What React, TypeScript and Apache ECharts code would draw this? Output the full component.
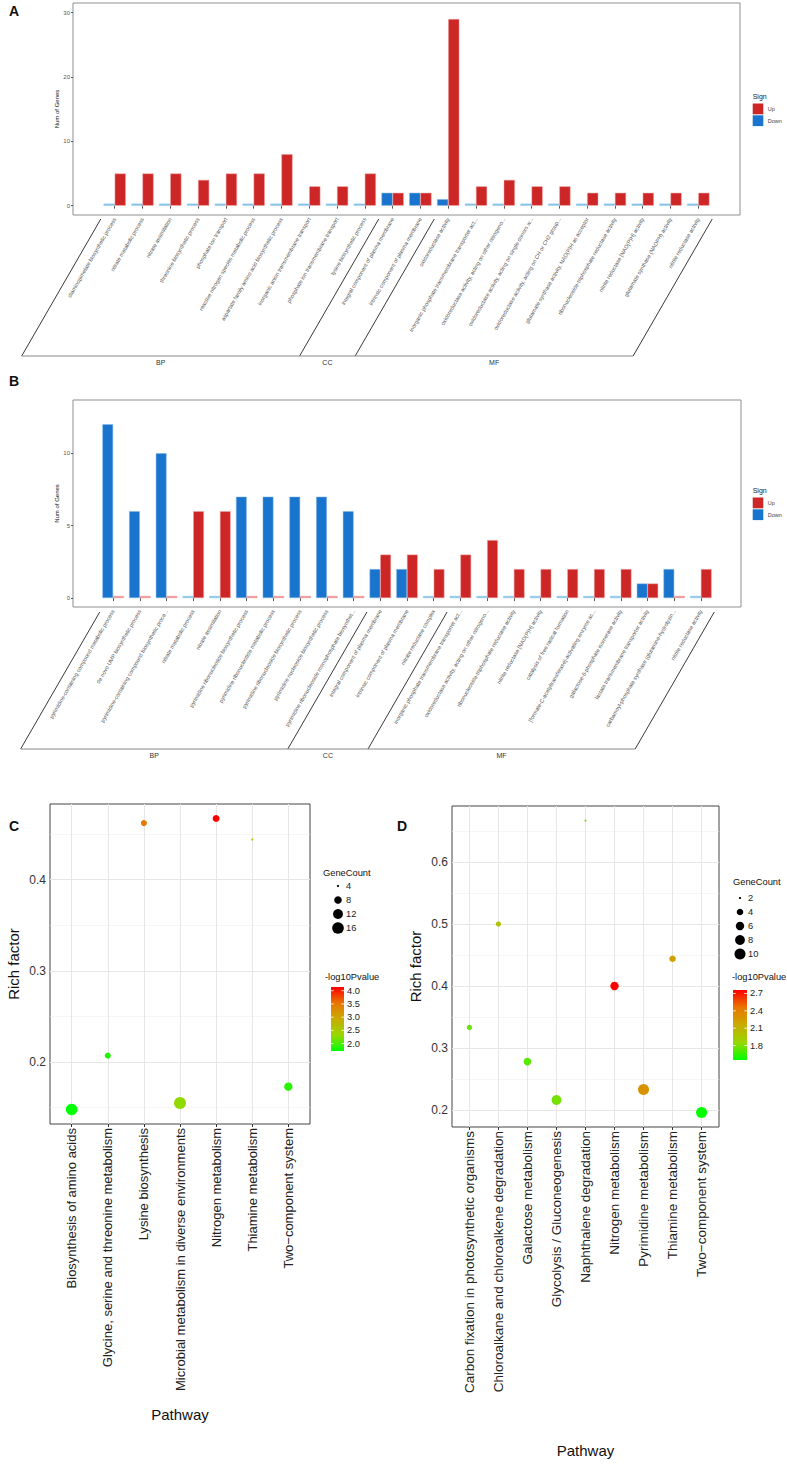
import React, { useEffect, useRef } from "react";
import * as echarts from "echarts";

const FONT = "'Liberation Sans', Arial, Helvetica, sans-serif";

// ---------------- Panel A (GO, bars) ----------------
const aCategories = [
  "diaminopimelate biosynthetic process",
  "nitrate metabolic process",
  "nitrate assimilation",
  "threonine biosynthetic process",
  "phosphate ion transport",
  "reactive nitrogen species metabolic process",
  "aspartate family amino acid biosynthetic process",
  "inorganic anion transmembrane transport",
  "phosphate ion transmembrane transport",
  "lysine biosynthetic process",
  "integral component of plasma membrane",
  "intrinsic component of plasma membrane",
  "oxidoreductase activity",
  "inorganic phosphate transmembrane transporter act...",
  "oxidoreductase activity, acting on other nitrogeno...",
  "oxidoreductase activity, acting on single donors w...",
  "oxidoreductase activity, acting on CH or CH2 group...",
  "glutamate synthase activity, NAD(P)H as acceptor",
  "ribonucleoside-triphosphate reductase activity",
  "nitrite reductase [NAD(P)H] activity",
  "glutamate synthase (NADPH) activity",
  "nitrite reductase activity",
];
const aGroupNames = ["BP", "CC", "MF"];
const aGroupSizes = [10, 2, 10];
const aUp = [5, 5, 5, 4, 5, 5, 8, 3, 3, 5, 2, 2, 29, 3, 4, 3, 3, 2, 2, 2, 2, 2];
const aDown = [0, 0, 0, 0, 0, 0, 0, 0, 0, 0, 2, 2, 1, 0, 0, 0, 0, 0, 0, 0, 0, 0];
const aTicks = [0, 10, 20, 30];

// ---------------- Panel B (GO, bars) ----------------
const bCategories = [
  "pyrimidine-containing compound metabolic process",
  "de novo UMP biosynthetic process",
  "pyrimidine-containing compound biosynthetic proce...",
  "nitrate metabolic process",
  "nitrate assimilation",
  "pyrimidine ribonucleotide biosynthetic process",
  "pyrimidine ribonucleotide metabolic process",
  "pyrimidine ribonucleoside biosynthetic process",
  "pyrimidine nucleoside biosynthetic process",
  "pyrimidine ribonucleoside monophosphate biosynthet...",
  "integral component of plasma membrane",
  "intrinsic component of plasma membrane",
  "nitrate reductase complex",
  "inorganic phosphate transmembrane transporter act...",
  "oxidoreductase activity, acting on other nitrogeno...",
  "ribonucleoside-triphosphate reductase activity",
  "nitrite reductase [NAD(P)H] activity",
  "catalysis of free radical formation",
  "[formate-C-acetyltransferase]-activating enzyme ac...",
  "galactose-6-phosphate isomerase activity",
  "lactate transmembrane transporter activity",
  "carbamoyl-phosphate synthase (glutamine-hydrolyzin...",
  "nitrite reductase activity",
];
const bGroupNames = ["BP", "CC", "MF"];
const bGroupSizes = [10, 3, 10];
const bUp = [0, 0, 0, 6, 6, 0, 0, 0, 0, 0, 3, 3, 2, 3, 4, 2, 2, 2, 2, 2, 1, 0, 2];
const bDown = [12, 6, 10, 0, 0, 7, 7, 7, 7, 6, 2, 2, 0, 0, 0, 0, 0, 0, 0, 0, 1, 2, 0];
const bTicks = [0, 5, 10];

// ---------------- Panel C (KEGG, bubbles) ----------------
const cPathways = [
  "Biosynthesis of amino acids",
  "Glycine, serine and threonine metabolism",
  "Lysine biosynthesis",
  "Microbial metabolism in diverse environments",
  "Nitrogen metabolism",
  "Thiamine metabolism",
  "Two\u2212component system",
];
const cRichFactor = [0.148, 0.207, 0.462, 0.155, 0.467, 0.444, 0.173];
const cLog10P = [1.72, 1.85, 3.5, 2.3, 4.14, 2.4, 1.88];
const cGeneCount = [16, 6, 6, 17, 7, 4, 9];
const cYTicks = [0.2, 0.3, 0.4];
const cSizeBreaks = [4, 8, 12, 16];
const cColorBreaks = [2.0, 2.5, 3.0, 3.5, 4.0];

// ---------------- Panel D (KEGG, bubbles) ----------------
const dPathways = [
  "Carbon fixation in photosynthetic organisms",
  "Chloroalkane and chloroalkene degradation",
  "Galactose metabolism",
  "Glycolysis / Gluconeogenesis",
  "Naphthalene degradation",
  "Nitrogen metabolism",
  "Pyrimidine metabolism",
  "Thiamine metabolism",
  "Two\u2212component system",
];
const dRichFactor = [0.333, 0.5, 0.278, 0.216, 0.667, 0.4, 0.233, 0.444, 0.196];
const dLog10P = [1.75, 2.0, 1.72, 1.78, 1.8, 2.76, 2.3, 2.22, 1.55];
const dGeneCount = [3, 3, 5, 8, 2, 6, 10, 4, 10];
const dYTicks = [0.2, 0.3, 0.4, 0.5, 0.6];
const dSizeBreaks = [2, 4, 6, 8, 10];
const dColorBreaks = [1.8, 2.1, 2.4, 2.7];

// ---------------- styling ----------------
const RED = "#CD2626";
const BLUE = "#1874CD";
const RED_LIGHT = "#EE8E8E";
const BLUE_LIGHT = "#86C3EA";
const GRAD = ["#00FF00", "#98D700", "#C9AB00", "#E87600", "#FF0000"];

const A_LAYOUT = { left: 73, top: 3, width: 667, height: 212, yMin: -1.45, yMax: 31.5, bracketBottom: 356, legendY: 96 };
const B_LAYOUT = { left: 73, top: 400, width: 668, height: 207, yMin: -0.62, yMax: 13.68, bracketBottom: 749, legendY: 490 };
const C_LAYOUT = { left: 50, top: 804, width: 260, height: 320, labelSize: 13, pathwayY: 1414 };
const D_LAYOUT = { left: 452, top: 806, width: 267, height: 321, labelSize: 13.5, pathwayY: 1450 };

function padCats(cats: string[]) {
  return [" ", ...cats, "  "];
}

function barData(values: number[], light: string, dark: string) {
  return [
    "-",
    ...values.map((v) =>
      v === 0
        ? { value: 0, itemStyle: { color: light, borderColor: light } }
        : { value: v, itemStyle: { color: dark } }
    ),
    "-",
  ];
}

function barXAxis(gridIndex: number, cats: string[]) {
  const data = padCats(cats);
  return {
    type: "category",
    gridIndex,
    data,
    boundaryGap: true,
    axisLine: { show: false },
    axisTick: {
      show: true,
      alignWithLabel: true,
      length: 3,
      lineStyle: { color: "#333", width: 0.8 },
      interval: (i: number) => i > 0 && i < data.length - 1,
    },
    axisLabel: {
      interval: 0,
      rotate: 60,
      fontSize: 5.5,
      color: "#555",
      margin: 3,
      fontFamily: FONT,
      formatter: (v: string) => v.trim(),
    },
    splitLine: { show: false },
  };
}

function barYAxis(gridIndex: number, min: number, max: number, ticks: number[]) {
  return {
    type: "value",
    gridIndex,
    min,
    max,
    axisLine: { show: false },
    axisTick: { show: true, customValues: ticks, length: 2, lineStyle: { color: "#333", width: 0.8 } },
    axisLabel: { customValues: ticks, fontSize: 6, color: "#555", margin: 3, fontFamily: FONT },
    splitLine: { show: false },
  };
}

function barSeries(xi: number, up: number[], down: number[]) {
  const common = {
    type: "bar",
    xAxisIndex: xi,
    yAxisIndex: xi,
    barWidth: "40%",
    barGap: "0%",
    barMinHeight: 2,
    silent: true,
  };
  return [
    { ...common, name: "Down", data: barData(down, BLUE_LIGHT, BLUE), itemStyle: { color: BLUE, borderColor: "#7fb6e6", borderWidth: 0.5 } },
    { ...common, name: "Up", data: barData(up, RED_LIGHT, RED), itemStyle: { color: RED, borderColor: "#f0a0a0", borderWidth: 0.5 } },
  ];
}

function extent(vals: number[]) {
  const lo = Math.min(...vals);
  const hi = Math.max(...vals);
  const pad = (hi - lo) * 0.05;
  return [lo - pad, hi + pad];
}

function scatterXAxis(gridIndex: number, names: string[], fontSize: number) {
  const idx = names.map((_, i) => i);
  return {
    type: "value",
    gridIndex,
    min: -0.6,
    max: names.length - 1 + 0.6,
    axisLine: { show: false },
    axisTick: { show: true, customValues: idx, length: 3, lineStyle: { color: "#333" } },
    axisLabel: {
      customValues: idx,
      rotate: 90,
      fontSize,
      color: "#222",
      margin: 4,
      fontFamily: FONT,
      formatter: (v: number) => names[Math.round(v)] ?? "",
    },
    splitLine: { show: false },
  };
}

function scatterYAxis(gridIndex: number, vals: number[], ticks: number[]) {
  const [min, max] = extent(vals);
  return {
    type: "value",
    gridIndex,
    min,
    max,
    axisLine: { show: false },
    axisTick: { show: true, customValues: ticks, length: 3, lineStyle: { color: "#333" } },
    axisLabel: {
      customValues: ticks,
      fontSize: 12,
      color: "#333",
      margin: 4,
      fontFamily: FONT,
      formatter: (v: number) => v.toFixed(1),
    },
    splitLine: { show: false },
  };
}

function sizeScale(counts: number[], dMin: number, dMax: number) {
  const lo = Math.min(...counts);
  const hi = Math.max(...counts);
  return (v: number) => dMin + (dMax - dMin) * Math.sqrt(Math.max(0, (v - lo) / (hi - lo)));
}

function gridLines(names: string[], ticks: number[]) {
  const step = ticks[1] - ticks[0];
  const minors: number[] = [];
  minors.push(ticks[0] - step / 2);
  ticks.forEach((t) => minors.push(t + step / 2));
  const data: any[] = [];
  minors.forEach((v) => data.push({ yAxis: v, lineStyle: { color: "#f0f0f0", width: 0.6, type: "solid" } }));
  ticks.forEach((v) => data.push({ yAxis: v, lineStyle: { color: "#e6e6e6", width: 1, type: "solid" } }));
  names.forEach((_, i) => data.push({ xAxis: i, lineStyle: { color: "#e6e6e6", width: 1, type: "solid" } }));
  return {
    silent: true,
    symbol: ["none", "none"],
    label: { show: false },
    z: 1,
    animation: false,
    data,
  };
}

function bracket(chart: any, xAxisIndex: number, groupNames: string[], groupSizes: number[], topY: number, bottomY: number) {
  const px = (i: number) => chart.convertToPixel({ xAxisIndex }, i) as number;
  const band = px(2) - px(1);
  const edges = [px(1) - band / 2];
  let cum = 0;
  groupSizes.forEach((s) => {
    cum += s;
    edges.push(px(cum) + band / 2);
  });
  const shift = (bottomY - topY) / Math.tan(Math.PI / 3);
  const els: any[] = [];
  const ls = { stroke: "#222", lineWidth: 0.9 };
  edges.forEach((e) =>
    els.push({ type: "line", silent: true, shape: { x1: e, y1: topY, x2: e - shift, y2: bottomY }, style: ls })
  );
  els.push({
    type: "line",
    silent: true,
    shape: { x1: edges[0] - shift, y1: bottomY, x2: edges[edges.length - 1] - shift, y2: bottomY },
    style: { stroke: "#888", lineWidth: 1 },
  });
  groupNames.forEach((name, k) => {
    const xm = (edges[k] + edges[k + 1]) / 2 - shift;
    els.push({
      type: "text",
      silent: true,
      x: xm,
      y: bottomY + 3,
      style: { text: name, fontSize: 7, fill: "#333", align: "center", verticalAlign: "top", fontFamily: FONT },
    });
  });
  return els;
}

function signLegend(y: number) {
  const x = 752.7;
  return [
    { type: "text", silent: true, x, y, style: { text: "Sign", fontSize: 7, fill: "#222", verticalAlign: "middle", fontFamily: FONT } },
    { type: "rect", silent: true, shape: { x, y: y + 7.5, width: 10.6, height: 10.8 }, style: { fill: RED } },
    { type: "rect", silent: true, shape: { x, y: y + 19.3, width: 10.6, height: 10.8 }, style: { fill: BLUE } },
    { type: "text", silent: true, x: x + 15, y: y + 13, style: { text: "Up", fontSize: 5.5, fill: "#444", verticalAlign: "middle", fontFamily: FONT } },
    { type: "text", silent: true, x: x + 15, y: y + 25, style: { text: "Down", fontSize: 5.5, fill: "#444", verticalAlign: "middle", fontFamily: FONT } },
  ];
}

function bubbleLegend(opts: {
  titleX: number; titleY: number; dotX: number; numX: number; rowY: number; rowGap: number;
  sizeBreaks: number[]; sizeFn: (v: number) => number;
  cTitleX: number; cTitleY: number; barX: number; barW: number; barTop: number; barH: number;
  cMin: number; cMax: number; colorBreaks: number[];
}) {
  const o = opts;
  const fs = 9.3;
  const els: any[] = [];
  els.push({ type: "text", silent: true, x: o.titleX, y: o.titleY, style: { text: "GeneCount", fontSize: fs, fill: "#111", verticalAlign: "middle", fontFamily: FONT } });
  o.sizeBreaks.forEach((b, i) => {
    const y = o.rowY + i * o.rowGap;
    els.push({ type: "circle", silent: true, shape: { cx: o.dotX, cy: y, r: o.sizeFn(b) / 2 }, style: { fill: "#000" } });
    els.push({ type: "text", silent: true, x: o.numX, y, style: { text: String(b), fontSize: fs, fill: "#222", verticalAlign: "middle", fontFamily: FONT } });
  });
  els.push({ type: "text", silent: true, x: o.cTitleX, y: o.cTitleY, style: { text: "-log10Pvalue", fontSize: fs, fill: "#111", verticalAlign: "middle", fontFamily: FONT } });
  els.push({
    type: "rect",
    silent: true,
    shape: { x: o.barX, y: o.barTop, width: o.barW, height: o.barH },
    style: {
      fill: {
        type: "linear", x: 0, y: 1, x2: 0, y2: 0,
        colorStops: GRAD.map((c, i) => ({ offset: i / (GRAD.length - 1), color: c })),
      },
    },
  });
  o.colorBreaks.forEach((b) => {
    const y = o.barTop + o.barH - ((b - o.cMin) / (o.cMax - o.cMin)) * o.barH;
    els.push({ type: "line", silent: true, shape: { x1: o.barX, y1: y, x2: o.barX + o.barW * 0.2, y2: y }, style: { stroke: "#fff", lineWidth: 0.8 } });
    els.push({ type: "line", silent: true, shape: { x1: o.barX + o.barW * 0.8, y1: y, x2: o.barX + o.barW, y2: y }, style: { stroke: "#fff", lineWidth: 0.8 } });
    els.push({ type: "text", silent: true, x: o.barX + o.barW + 3, y, style: { text: b.toFixed(1), fontSize: fs, fill: "#222", verticalAlign: "middle", fontFamily: FONT } });
  });
  return els;
}

function label(text: string, x: number, y: number, size: number, bold = false, rot = 0) {
  return {
    type: "text",
    silent: true,
    x,
    y,
    rotation: rot,
    style: {
      text,
      fontSize: size,
      fontWeight: bold ? "bold" : "normal",
      fill: "#111",
      align: "center",
      verticalAlign: "middle",
      fontFamily: FONT,
    },
  };
}

export default function App() {
  const ref = useRef<HTMLDivElement>(null);

  useEffect(() => {
    const chart = echarts.init(ref.current!, null, { renderer: "svg" });

    const cSize = sizeScale(cGeneCount, 2.2, 12);
    const dSize = sizeScale(dGeneCount, 2.2, 11);
    const cMin = Math.min(...cLog10P), cMax = Math.max(...cLog10P);
    const dMin = Math.min(...dLog10P), dMax = Math.max(...dLog10P);

    const gridBase = { show: true, backgroundColor: "#fff", containLabel: false, outerBoundsMode: "none" };

    const option: any = {
      animation: false,
      backgroundColor: "#fff",
      textStyle: { fontFamily: FONT },
      grid: [
        { ...gridBase, left: A_LAYOUT.left, top: A_LAYOUT.top, width: A_LAYOUT.width, height: A_LAYOUT.height, borderColor: "#8f8f8f", borderWidth: 1 },
        { ...gridBase, left: B_LAYOUT.left, top: B_LAYOUT.top, width: B_LAYOUT.width, height: B_LAYOUT.height, borderColor: "#8f8f8f", borderWidth: 1 },
        { ...gridBase, left: C_LAYOUT.left, top: C_LAYOUT.top, width: C_LAYOUT.width, height: C_LAYOUT.height, borderColor: "#444", borderWidth: 1 },
        { ...gridBase, left: D_LAYOUT.left, top: D_LAYOUT.top, width: D_LAYOUT.width, height: D_LAYOUT.height, borderColor: "#444", borderWidth: 1 },
      ],
      xAxis: [
        barXAxis(0, aCategories),
        barXAxis(1, bCategories),
        scatterXAxis(2, cPathways, C_LAYOUT.labelSize),
        scatterXAxis(3, dPathways, D_LAYOUT.labelSize),
      ],
      yAxis: [
        barYAxis(0, A_LAYOUT.yMin, A_LAYOUT.yMax, aTicks),
        barYAxis(1, B_LAYOUT.yMin, B_LAYOUT.yMax, bTicks),
        scatterYAxis(2, cRichFactor, cYTicks),
        scatterYAxis(3, dRichFactor, dYTicks),
      ],
      visualMap: [
        { type: "continuous", show: false, seriesIndex: 4, dimension: 2, min: cMin, max: cMax, inRange: { color: GRAD } },
        { type: "continuous", show: false, seriesIndex: 5, dimension: 2, min: dMin, max: dMax, inRange: { color: GRAD } },
      ],
      series: [
        ...barSeries(0, aUp, aDown),
        ...barSeries(1, bUp, bDown),
        {
          type: "scatter",
          xAxisIndex: 2,
          yAxisIndex: 2,
          silent: true,
          z: 3,
          data: cPathways.map((_, i) => [i, cRichFactor[i], cLog10P[i], cGeneCount[i]]),
          symbolSize: (v: number[]) => cSize(v[3]),
          itemStyle: { opacity: 1 },
          markLine: gridLines(cPathways, cYTicks),
        },
        {
          type: "scatter",
          xAxisIndex: 3,
          yAxisIndex: 3,
          silent: true,
          z: 3,
          data: dPathways.map((_, i) => [i, dRichFactor[i], dLog10P[i], dGeneCount[i]]),
          symbolSize: (v: number[]) => dSize(v[3]),
          itemStyle: { opacity: 1 },
          markLine: gridLines(dPathways, dYTicks),
        },
      ],
    };

    chart.setOption(option);

    const graphics: any[] = [
      label("A", 14, 11, 14, true),
      label("B", 14, 381, 14, true),
      label("C", 14, 826, 14, true),
      label("D", 402, 826, 14, true),
      label("Num of Genes", 57, A_LAYOUT.top + A_LAYOUT.height / 2, 6, false, Math.PI / 2),
      label("Num of Genes", 57, B_LAYOUT.top + B_LAYOUT.height / 2, 6, false, Math.PI / 2),
      label("Rich factor", 13, C_LAYOUT.top + C_LAYOUT.height / 2, 15, false, Math.PI / 2),
      label("Rich factor", 415, D_LAYOUT.top + D_LAYOUT.height / 2, 15, false, Math.PI / 2),
      label("Pathway", C_LAYOUT.left + C_LAYOUT.width / 2, C_LAYOUT.pathwayY, 15),
      label("Pathway", D_LAYOUT.left + D_LAYOUT.width / 2, D_LAYOUT.pathwayY, 15),
      ...bracket(chart, 0, aGroupNames, aGroupSizes, A_LAYOUT.top + A_LAYOUT.height + 4, A_LAYOUT.bracketBottom),
      ...bracket(chart, 1, bGroupNames, bGroupSizes, B_LAYOUT.top + B_LAYOUT.height + 5, B_LAYOUT.bracketBottom),
      ...signLegend(A_LAYOUT.legendY),
      ...signLegend(B_LAYOUT.legendY),
      ...bubbleLegend({
        titleX: 323, titleY: 873, dotX: 338, numX: 346, rowY: 886, rowGap: 14,
        sizeBreaks: cSizeBreaks, sizeFn: cSize,
        cTitleX: 325, cTitleY: 977, barX: 331, barW: 13, barTop: 987, barH: 64,
        cMin, cMax, colorBreaks: cColorBreaks,
      }),
      ...bubbleLegend({
        titleX: 733, titleY: 882, dotX: 740, numX: 748, rowY: 898, rowGap: 14,
        sizeBreaks: dSizeBreaks, sizeFn: dSize,
        cTitleX: 732, cTitleY: 977, barX: 733, barW: 14, barTop: 990, barH: 70,
        cMin: dMin, cMax: dMax, colorBreaks: dColorBreaks,
      }),
    ];
    chart.setOption({ graphic: graphics });

    return () => chart.dispose();
  }, []);

  return (
    <div
      ref={ref}
      style={{ position: "absolute", left: 0, top: 0, width: 787, height: 1475, background: "#fff" }}
    />
  );
}
